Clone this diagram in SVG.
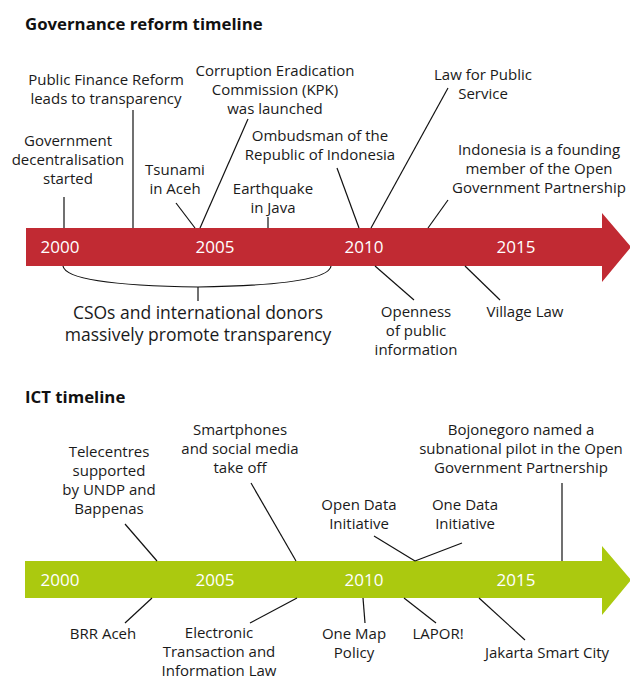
<svg xmlns="http://www.w3.org/2000/svg" width="630" height="678" viewBox="0 0 630 678">
<style>
text{font-family:"Open Sans","Noto Sans","DejaVu Sans",sans-serif;fill:#1a1a1a}
.t{font-size:15px;text-anchor:middle}
.big{font-size:17.5px;text-anchor:middle}
.yr{font-size:17px;text-anchor:middle;fill:#ffffff}
.h{font-size:16.8px;font-weight:bold;fill:#111}
.c{stroke:#111;stroke-width:1.2;fill:none}
</style>
<rect width="630" height="678" fill="#ffffff"/>
<text class="h" x="25" y="30">Governance reform timeline</text>
<text class="h" x="25" y="403">ICT timeline</text>

<g id="gov-bar">
<polygon points="26,228 602,228 602,213 631,247 602,282 602,266 26,266" fill="#c12a33"/>
<text class="yr" x="60" y="253">2000</text>
<text class="yr" x="215" y="253">2005</text>
<text class="yr" x="364" y="253">2010</text>
<text class="yr" x="516" y="253">2015</text>
</g>

<g id="ict-bar">
<polygon points="25,561 602,561 602,546 631,580 602,615 602,598 25,598" fill="#abc90f"/>
<text class="yr" x="60" y="586">2000</text>
<text class="yr" x="215" y="586">2005</text>
<text class="yr" x="364" y="586">2010</text>
<text class="yr" x="516" y="586">2015</text>
</g>

<g id="connectors">
<line class="c" x1="64" y1="197" x2="64" y2="228"/>
<line class="c" x1="133" y1="110" x2="133" y2="228"/>
<line class="c" x1="248" y1="119" x2="200" y2="228"/>
<line class="c" x1="176" y1="203" x2="195" y2="228"/>
<line class="c" x1="268" y1="217" x2="268" y2="228"/>
<line class="c" x1="337" y1="168" x2="359" y2="228"/>
<line class="c" x1="448" y1="88" x2="371" y2="228"/>
<line class="c" x1="448" y1="200" x2="428" y2="228"/>
<path class="c" d="M63,266 Q66,285 198,287 Q328,285 331,266"/>
<line class="c" x1="198" y1="287" x2="198" y2="301"/>
<line class="c" x1="375" y1="266" x2="414" y2="300"/>
<line class="c" x1="465" y1="266" x2="500" y2="300"/>

<line class="c" x1="125" y1="524" x2="157" y2="561"/>
<line class="c" x1="251" y1="483" x2="296" y2="561"/>
<line class="c" x1="562" y1="483" x2="562" y2="561"/>
<line class="c" x1="374" y1="536" x2="415" y2="561"/>
<line class="c" x1="462" y1="543" x2="415" y2="561"/>
<line class="c" x1="152" y1="598" x2="125" y2="623"/>
<line class="c" x1="297" y1="598" x2="250" y2="623"/>
<line class="c" x1="363" y1="598" x2="365" y2="623"/>
<line class="c" x1="404" y1="598" x2="436" y2="623"/>
<line class="c" x1="479" y1="598" x2="525" y2="640"/>
</g>

<g id="n-decentralisation"><text class="t" x="68" y="146">Government</text><text class="t" x="68" y="165">decentralisation</text><text class="t" x="68" y="184">started</text></g>
<g id="n-pfr"><text class="t" x="106" y="85">Public Finance Reform</text><text class="t" x="106" y="104">leads to transparency</text></g>
<g id="n-kpk"><text class="t" x="275" y="76">Corruption Eradication</text><text class="t" x="275" y="95">Commission (KPK)</text><text class="t" x="275" y="114">was launched</text></g>
<g id="n-tsunami"><text class="t" x="175" y="175">Tsunami</text><text class="t" x="175" y="194">in Aceh</text></g>
<g id="n-earthquake"><text class="t" x="273" y="194">Earthquake</text><text class="t" x="273" y="213">in Java</text></g>
<g id="n-ombudsman"><text class="t" x="320" y="141">Ombudsman of the</text><text class="t" x="320" y="160">Republic of Indonesia</text></g>
<g id="n-lawpublic"><text class="t" x="483" y="80">Law for Public</text><text class="t" x="483" y="99">Service</text></g>
<g id="n-ogp"><text class="t" x="539" y="155">Indonesia is a founding</text><text class="t" x="539" y="174">member of the Open</text><text class="t" x="539" y="193">Government Partnership</text></g>
<g id="n-csos"><text class="big" x="198" y="319">CSOs and international donors</text><text class="big" x="198" y="341">massively promote transparency</text></g>
<g id="n-openness"><text class="t" x="416" y="317">Openness</text><text class="t" x="416" y="336">of public</text><text class="t" x="416" y="355">information</text></g>
<g id="n-village"><text class="t" x="525" y="317">Village Law</text></g>

<g id="n-telecentres"><text class="t" x="109" y="457">Telecentres</text><text class="t" x="109" y="476">supported</text><text class="t" x="109" y="495">by UNDP and</text><text class="t" x="109" y="514">Bappenas</text></g>
<g id="n-smartphones"><text class="t" x="240" y="435">Smartphones</text><text class="t" x="240" y="454">and social media</text><text class="t" x="240" y="473">take off</text></g>
<g id="n-bojonegoro"><text class="t" x="521" y="435">Bojonegoro named a</text><text class="t" x="521" y="454">subnational pilot in the Open</text><text class="t" x="521" y="473">Government Partnership</text></g>
<g id="n-opendata"><text class="t" x="359" y="510">Open Data</text><text class="t" x="359" y="529">Initiative</text></g>
<g id="n-onedata"><text class="t" x="465" y="510">One Data</text><text class="t" x="465" y="529">Initiative</text></g>
<g id="n-brr"><text class="t" x="103" y="639">BRR Aceh</text></g>
<g id="n-eti"><text class="t" x="219" y="638">Electronic</text><text class="t" x="219" y="657">Transaction and</text><text class="t" x="219" y="676">Information Law</text></g>
<g id="n-onemap"><text class="t" x="354" y="639">One Map</text><text class="t" x="354" y="658">Policy</text></g>
<g id="n-lapor"><text class="t" x="438" y="639">LAPOR!</text></g>
<g id="n-jakarta"><text class="t" x="547" y="658">Jakarta Smart City</text></g>
</svg>
